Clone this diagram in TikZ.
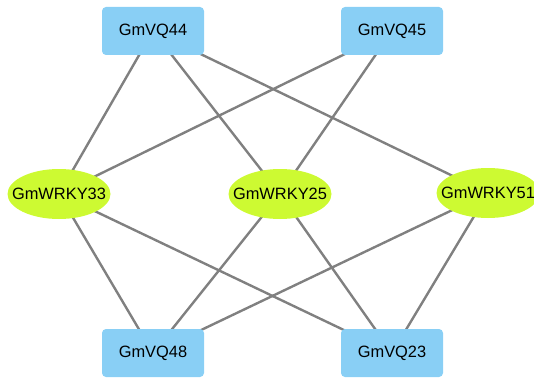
\documentclass[tikz,border=0pt]{standalone}
\usepackage{fontspec}
\setmainfont{Liberation Sans}
\usetikzlibrary{shapes.geometric,backgrounds}
\definecolor{vqblue}{HTML}{89CFF5}
\definecolor{wrkygreen}{HTML}{CDFA32}
\definecolor{edgegray}{HTML}{808080}
\tikzset{
  vqbox/.style={rectangle, rounded corners=4pt, fill=vqblue, minimum width=102pt, minimum height=48pt, inner sep=0pt, font=\fontsize{16.4}{18}\selectfont},
  wrky/.style={ellipse, fill=wrkygreen, minimum width=103pt, minimum height=50pt, inner xsep=-12pt, inner ysep=0pt, font=\fontsize{16.4}{18}\selectfont},
  link/.style={draw=edgegray, line width=2.4pt}
}
\begin{document}
\begin{tikzpicture}[x=1pt,y=-1pt]
\useasboundingbox (0,0) rectangle (534,377);
\node[vqbox] (vq44) at (153,31) {GmVQ44};
\node[vqbox] (vq45) at (392,31) {GmVQ45};
\node[wrky] (w33) at (59,194) {GmWRKY33};
\node[wrky] (w25) at (280,194) {GmWRKY25};
\node[wrky] (w51) at (488,193) {GmWRKY51};
\node[vqbox] (vq48) at (153,353) {GmVQ48};
\node[vqbox] (vq23) at (392,353) {GmVQ23};
\begin{pgfonlayer}{background}
\draw[link] (vq44.center) -- (w33.center);
\draw[link] (vq44.center) -- (w25.center);
\draw[link] (vq44.center) -- (w51.center);
\draw[link] (vq45.center) -- (w33.center);
\draw[link] (vq45.center) -- (w25.center);
\draw[link] (w33.center) -- (vq48.center);
\draw[link] (w33.center) -- (vq23.center);
\draw[link] (w25.center) -- (vq48.center);
\draw[link] (w25.center) -- (vq23.center);
\draw[link] (w51.center) -- (vq48.center);
\draw[link] (w51.center) -- (vq23.center);
\end{pgfonlayer}
\end{tikzpicture}
\end{document}
